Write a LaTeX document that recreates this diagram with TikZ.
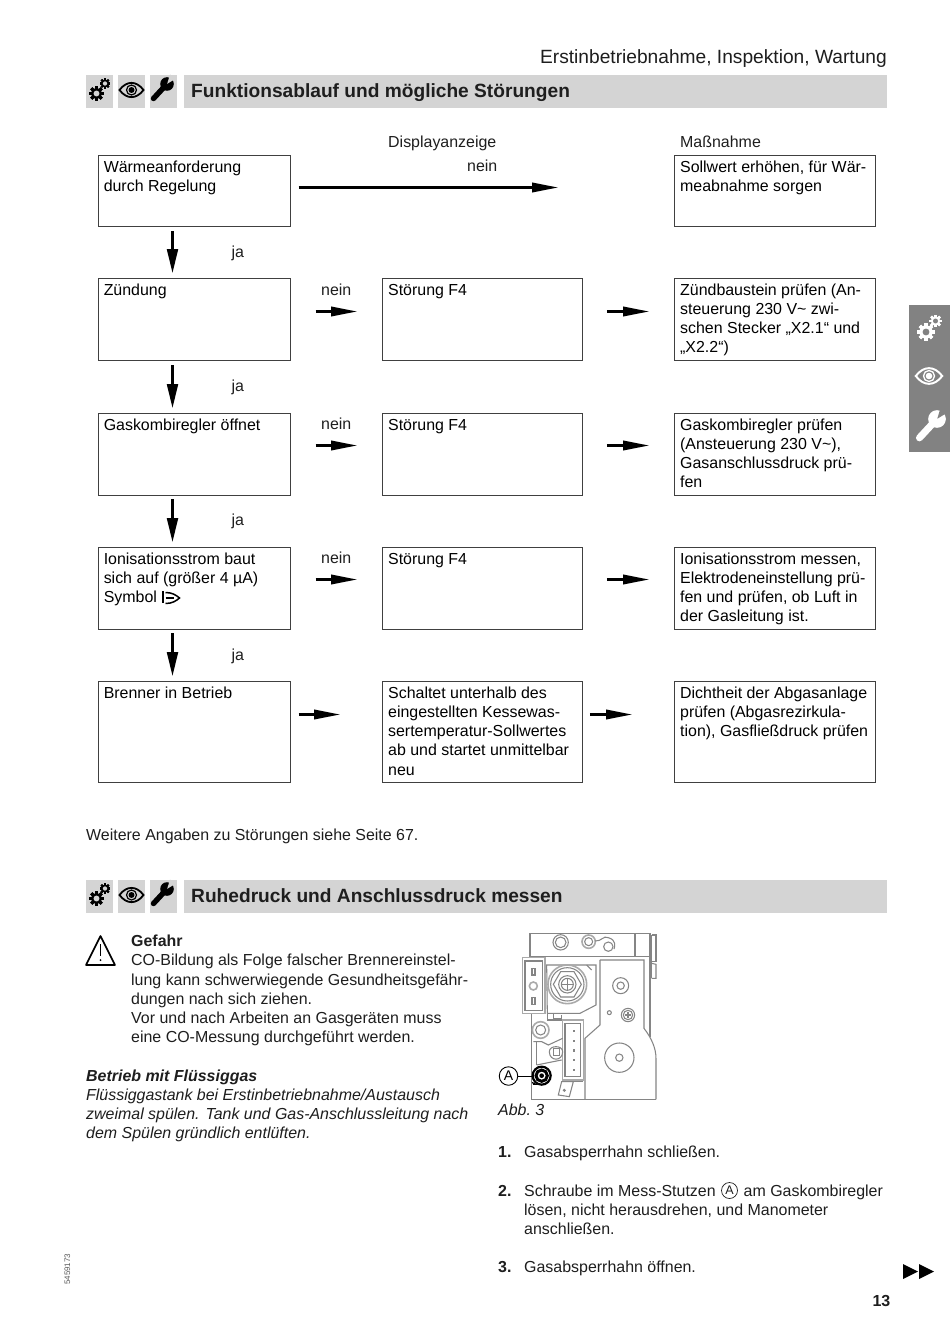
\documentclass[tikz,border=0pt]{standalone}
\usepackage{fontspec}
\setmainfont{Liberation Sans}
\usetikzlibrary{arrows.meta}
\definecolor{barg}{HTML}{D4D4D4}
\definecolor{tabg}{HTML}{828282}
\definecolor{devg}{HTML}{858585}
\definecolor{ink}{HTML}{1E1E1E}
\newcommand{\bodyf}{\fontsize{15.95}{19.25}\selectfont}
\newcommand{\boxt}[3]{\parbox[c][#2pt][t]{#1pt}{\raggedright\leftskip=5.7pt\bodyf\rule{0pt}{16.6pt}#3}}
\newcommand{\paratxt}[2]{\parbox[t]{#1pt}{\raggedright\bodyf\rule{0pt}{14pt}#2}}
% gear: x y r colour background
\newcommand{\geari}[5]{%
  \fill[#4] (#1,#2) circle[radius=#3*0.76];
  \foreach \ga in {0,45,...,315}{\fill[#4,rotate around={\ga:(#1,#2)}] (#1-#3*0.2,#2-#3) rectangle (#1+#3*0.2,#2+#3);}
  \fill[#5] (#1,#2) circle[radius=#3*0.4];}
% eye: x y scale colour background
\newcommand{\eyei}[5]{%
  \draw[#4,line width=#3*1.8pt,fill=#5] (#1-#3*12,#2) .. controls (#1-#3*5,#2-#3*9.5) and (#1+#3*5,#2-#3*9.5) .. (#1+#3*12,#2) .. controls (#1+#3*5,#2+#3*9.5) and (#1-#3*5,#2+#3*9.5) .. cycle;
  \draw[#4,line width=#3*1.2pt] (#1,#2) circle[radius=#3*5];
  \fill[#4] (#1,#2) circle[radius=#3*3];}
% wrench: head x y scale colour background
\newcommand{\wrenchi}[5]{%
  \draw[#4,line width=#3*5.4pt,line cap=round] (#1-#3*13.5,#2+#3*14.5) -- (#1-#3*1,#2+#3*1);
  \fill[#4] (#1,#2) circle[radius=#3*6.8];
  \fill[#5] (#1+#3*0.2,#2-#3*0.2) -- (#1+#3*9,#2-#3*5.5) -- (#1+#3*3,#2-#3*9.5) -- cycle;}
\tikzset{
  flow/.style={draw=ink!85,line width=0.9pt,anchor=north west,inner sep=0pt},
  lab/.style={anchor=base west,inner sep=0pt,font=\bodyf,text=ink},
  para/.style={anchor=north west,inner sep=0pt,text=ink},
  head/.style={anchor=base west,inner sep=0pt,font=\fontsize{19.15}{24}\selectfont\bfseries,text=ink},
  harrow/.style={line width=2.1pt,-{Stealth[length=26pt,width=9.5pt,inset=0pt]},black},
  varrow/.style={line width=2.1pt,-{Stealth[length=24pt,width=11pt,inset=0pt]},black},
  dev/.style={draw=devg,line width=1.05pt},
  devk/.style={draw=devg!70,line width=1.6pt},
  barbox/.style={fill=barg,draw=none,inner sep=0pt,anchor=north west},
}
\begin{document}
\begin{tikzpicture}[x=1pt,y=-1pt]
\useasboundingbox (0,0) rectangle (950,1343);
\fill[white] (0,0) rectangle (950,1343);

% page head
\node[anchor=base east,inner sep=0pt,font=\fontsize{19.17}{23}\selectfont,text=ink] (pagehead) at (887,64) {Erstinbetriebnahme, Inspektion, Wartung};

% heading bar 1
\node[barbox,minimum width=27pt,minimum height=33pt] (i1a) at (86,75) {};
\node[barbox,minimum width=27pt,minimum height=33pt] (i1b) at (118,75) {};
\node[barbox,minimum width=27pt,minimum height=33pt] (i1c) at (150,75) {};
\node[barbox,minimum width=703pt,minimum height=33pt] (bar1) at (184,75) {};
\node[head] (h1) at (191,97.5) {Funktionsablauf und mögliche Störungen};
\geari{96.5}{93.5}{7.4}{black}{barg}
\geari{105}{83.5}{5.3}{black}{barg}
\eyei{131.5}{90}{1}{black}{barg}
\wrenchi{167}{84}{1}{black}{barg}

% column labels
\node[lab] (lDisp) at (388,148) {Displayanzeige};
\node[lab] (lMass) at (680,148) {Maßnahme};

% flow boxes
\node[flow] (a1) at (97.6,155) {\boxt{192.5}{71}{Wärmeanforderung\\durch Regelung}};
\node[flow] (c1) at (674,155) {\boxt{200.6}{71}{Sollwert erhöhen, für Wär-\\meabnahme sorgen}};
\node[flow] (a2) at (97.6,278) {\boxt{192.5}{82}{Zündung}};
\node[flow] (b2) at (382,278) {\boxt{200}{82}{Störung F4}};
\node[flow] (c2) at (674,278) {\boxt{200.6}{82}{Zündbaustein prüfen (An-\\steuerung 230 V\textasciitilde\ zwi-\\schen Stecker „X2.1“ und\\„X2.2“)}};
\node[flow] (a3) at (97.6,413) {\boxt{192.5}{82}{Gaskombiregler öffnet}};
\node[flow] (b3) at (382,413) {\boxt{200}{82}{Störung F4}};
\node[flow] (c3) at (674,413) {\boxt{200.6}{82}{Gaskombiregler prüfen\\(Ansteuerung 230 V\textasciitilde),\\Gasanschlussdruck prü-\\fen}};
\node[flow] (a4) at (97.6,547) {\boxt{192.5}{82}{Ionisationsstrom baut\\sich auf (größer 4 µA)\\Symbol}};
\node[flow] (b4) at (382,547) {\boxt{200}{82}{Störung F4}};
\node[flow] (c4) at (674,547) {\boxt{200.6}{82}{Ionisationsstrom messen,\\Elektrodeneinstellung prü-\\fen und prüfen, ob Luft in\\der Gasleitung ist.}};
\node[flow] (a5) at (97.6,681) {\boxt{192.5}{101}{Brenner in Betrieb}};
\node[flow] (b5) at (382,681) {\boxt{200}{101}{Schaltet unterhalb des\\eingestellten Kessewas-\\sertemperatur-Sollwertes\\ab und startet unmittelbar\\neu}};
\node[flow] (c5) at (674,681) {\boxt{200.6}{101}{Dichtheit der Abgasanlage\\prüfen (Abgasrezirkula-\\tion), Gasfließdruck prüfen}};

% flame symbol
\draw[black,line width=1.6pt] (163,591) -- (163,603);
\draw[black,line width=1.5pt] (165.5,592.5) .. controls (172,592.5) and (176,595) .. (179.5,598) .. controls (176,601) and (172,603.5) .. (165.5,603.5);
\draw[black,line width=1.3pt] (165.5,598) -- (174,598);

% flow connectors
\coordinate (vx) at (172.5,0);
\draw[varrow,shorten <=4.5pt,shorten >=5pt] (a1.south -| vx) -- (a2.north -| vx);
\draw[varrow,shorten <=4.5pt,shorten >=5pt] (a2.south -| vx) -- (a3.north -| vx);
\draw[varrow,shorten <=3.5pt,shorten >=5pt] (a3.south -| vx) -- (a4.north -| vx);
\draw[varrow,shorten <=3.5pt,shorten >=5pt] (a4.south -| vx) -- (a5.north -| vx);
\coordinate (y1) at (0,187.5);
\coordinate (y2) at (0,311.5);
\coordinate (y3) at (0,445.5);
\coordinate (y4) at (0,579.5);
\coordinate (y5) at (0,714.5);
\draw[harrow,shorten <=7.5pt,shorten >=116pt] (a1.east |- y1) -- (c1.west |- y1);
\draw[harrow,shorten <=24.5pt,shorten >=25pt] (a2.east |- y2) -- (b2.west |- y2);
\draw[harrow,shorten <=24.5pt,shorten >=25pt] (a3.east |- y3) -- (b3.west |- y3);
\draw[harrow,shorten <=24.5pt,shorten >=25pt] (a4.east |- y4) -- (b4.west |- y4);
\draw[harrow,shorten <=7.5pt,shorten >=42pt] (a5.east |- y5) -- (b5.west |- y5);
\draw[harrow,shorten <=24pt,shorten >=25pt] (b2.east |- y2) -- (c2.west |- y2);
\draw[harrow,shorten <=24pt,shorten >=25pt] (b3.east |- y3) -- (c3.west |- y3);
\draw[harrow,shorten <=24pt,shorten >=25pt] (b4.east |- y4) -- (c4.west |- y4);
\draw[harrow,shorten <=7pt,shorten >=42pt] (b5.east |- y5) -- (c5.west |- y5);

% connector labels
\node[lab] (n1) at (467,171.5) {nein};
\node[lab] (n2) at (321,295.5) {nein};
\node[lab] (n3) at (321,429.5) {nein};
\node[lab] (n4) at (321,563.5) {nein};
\node[lab] (j1) at (231.5,257.5) {ja};
\node[lab] (j2) at (231.5,391.5) {ja};
\node[lab] (j3) at (231.5,525.5) {ja};
\node[lab] (j4) at (231.5,660) {ja};

\node[lab] (more) at (86,840) {Weitere Angaben zu Störungen siehe Seite 67.};

% heading bar 2
\node[barbox,minimum width=27pt,minimum height=33pt] (i2a) at (86,880) {};
\node[barbox,minimum width=27pt,minimum height=33pt] (i2b) at (118,880) {};
\node[barbox,minimum width=27pt,minimum height=33pt] (i2c) at (150,880) {};
\node[barbox,minimum width=703pt,minimum height=33pt] (bar2) at (184,880) {};
\node[head] (h2) at (191,902) {Ruhedruck und Anschlussdruck messen};
\geari{96.5}{898.5}{7.4}{black}{barg}
\geari{105}{888.5}{5.3}{black}{barg}
\eyei{131.5}{895}{1}{black}{barg}
\wrenchi{167}{889}{1}{black}{barg}

% warning
\draw[black,line width=1.6pt,line join=round] (100.5,936) -- (115,965) -- (86,965) -- cycle;
\draw[black,line width=1.4pt] (100.5,944) -- (100.5,956);
\fill[black] (100.5,960) circle[radius=1];
\node[para] (warn) at (131,932.3) {\paratxt{345}{\textbf{Gefahr}\\CO-Bildung als Folge falscher Brennereinstel-\\lung kann schwerwiegende Gesundheitsgefähr-\\dungen nach sich ziehen.\\Vor und nach Arbeiten an Gasgeräten muss\\eine CO-Messung durchgeführt werden.}};
\node[para] (lpg) at (86,1067) {\paratxt{390}{\textbf{\textit{Betrieb mit Flüssiggas}}\\\textit{Flüssiggastank bei Erstinbetriebnahme/Austausch}\\\textit{zweimal spülen. Tank und Gas-Anschlussleitung nach}\\\textit{dem Spülen gründlich entlüften.}}};

% device drawing (coordinates in 1/3 px of its crop)
\begin{scope}[shift={(490,925)},x=0.3333pt,y=-0.3333pt]
\draw[dev] (120,98) -- (120,25) -- (480,25) -- (480,335);
\draw[dev] (125,265) -- (125,523) -- (498,523);
\draw[dev] (485,30) -- (498,30) -- (498,110) -- (485,110);
\draw[dev] (485,30) -- (485,160);
\draw[dev] (485,115) -- (498,118) -- (498,160) -- (485,160);
\draw[dev] (435,25) -- (435,95);
\draw[dev] (120,95) -- (480,95);
\draw[dev] (212,52) circle[radius=23];
\draw[dev] (212,52) circle[radius=16];
\draw[devk] (296,50) circle[radius=20];
\draw[dev] (296,50) circle[radius=12];
\draw[dev] (315,48) .. controls (335,50) and (340,30) .. (355,38) .. controls (380,45) and (375,65) .. (372,72);
\draw[dev] (355,65) circle[radius=14];
% connector block
\draw[devk] (97,98) rectangle (165,265);
\draw[dev] (105,108) rectangle (157,257);
\draw[dev] (126,130) rectangle (135,150);
\draw[dev] (126,218) rectangle (135,238);
\draw[devk] (130,183) circle[radius=12];
% valve
\draw[dev] (170,120) -- (318,120) -- (318,240) -- (270,265) -- (172,265) -- cycle;
\draw[dev] (290,120) -- (305,135);
\draw[devk] (232,178) circle[radius=58];
\draw[dev] (232,178) circle[radius=50];
\draw[dev] (190,178) -- (212,140) -- (252,140) -- (274,178) -- (252,216) -- (212,216) -- cycle;
\draw[dev] (232,178) circle[radius=26];
\draw[dev] (232,178) circle[radius=18];
\draw[dev] (216,178) -- (248,178) (232,162) -- (232,194);
\draw[dev] (172,265) -- (172,285) -- (280,285);
\draw[dev] (190,265) -- (190,280) -- (215,280) -- (215,270);
% plate
\draw[dev] (330,105) -- (462,105) -- (462,310) .. controls (485,340) and (498,370) .. (498,400) -- (498,523);
\draw[dev] (330,105) -- (330,272) -- (330,300) -- (285,340) -- (285,523);
\draw[dev] (392,182) circle[radius=24];
\draw[dev] (392,182) circle[radius=11];
\draw[dev] (358,263) circle[radius=6];
\draw[dev] (414,270) circle[radius=20];
\draw[dev] (414,270) circle[radius=14];
\draw[dev] (406,270) -- (422,270) (414,262) -- (414,278);
\draw[dev] (388,398) circle[radius=44];
\draw[dev] (388,398) circle[radius=11];
% plug
\draw[devk] (218,285) rectangle (280,465);
\draw[dev] (225,295) rectangle (272,455);
\foreach \py in {315,345,373,402,432}{\fill[devg] (248,\py) rectangle (256,\py+7);}
\draw[dev] (218,470) -- (280,470);
\draw[dev] (205,510) -- (215,470) -- (250,470) -- (238,515) -- cycle;
\draw[dev] (223,496) circle[radius=3];
% lower left
\draw[devk] (152,315) circle[radius=25];
\draw[dev] (152,315) circle[radius=15];
\draw[dev] (130,350) -- (155,350) -- (175,360) -- (218,340);
\draw[dev] (140,350) -- (140,420);
\draw[dev] (178,380) .. controls (178,360) and (218,360) .. (218,380) .. controls (218,410) and (178,410) .. (178,380);
\draw[dev] (190,370) rectangle (208,392);
\draw[dev] (140,420) -- (215,405);
% measuring port
\draw[black,line width=2.2pt] (155,452) circle[radius=27];
\draw[black,line width=3pt] (155,452) circle[radius=17];
\fill[black] (155,452) circle[radius=7];
\fill[black] (125,470) -- (130,480) -- (145,480) -- cycle;
\end{scope}
\node[draw=black,circle,line width=0.9pt,inner sep=0pt,minimum size=18.5pt,font=\fontsize{14}{16}\selectfont] (markA) at (508.5,1076) {A};
\coordinate (port) at (533,1076);
\draw[black,line width=0.9pt] (markA) -- (port);
\node[lab,font=\bodyf\itshape] (abb) at (498,1115) {Abb.\ 3};

% steps
\node[lab,font=\bodyf\bfseries] (s1n) at (498,1157) {1.};
\node[lab] (s1) at (524,1157) {Gasabsperrhahn schließen.};
\node[lab,font=\bodyf\bfseries] (s2n) at (498,1196) {2.};
\node[lab] (s2a) at (524,1196) {Schraube im Mess-Stutzen};
\node[draw=ink,circle,line width=0.7pt,inner sep=0pt,minimum size=16pt,font=\fontsize{12.5}{14}\selectfont,text=ink] (s2m) at (729.5,1190.5) {A};
\node[lab] (s2b) at (743.5,1196) {am Gaskombiregler};
\node[para] (s2c) at (524,1201) {\paratxt{360}{lösen, nicht herausdrehen, und Manometer\\anschließen.}};
\node[lab,font=\bodyf\bfseries] (s3n) at (498,1272) {3.};
\node[lab] (s3) at (524,1272) {Gasabsperrhahn öffnen.};

% right-hand tab
\fill[tabg] (909,305) rectangle (950,452);
\geari{926}{332}{8.6}{white}{tabg}
\geari{935.5}{321}{6.2}{white}{tabg}
\eyei{929}{376}{1.1}{white}{tabg}
\wrenchi{937}{419}{1.3}{white}{tabg}

% next page arrows and page number
\fill[black] (903,1264) -- (918,1271.5) -- (903,1279) -- cycle;
\fill[black] (919,1264) -- (934,1271.5) -- (919,1279) -- cycle;
\node[anchor=base east,inner sep=0pt,font=\fontsize{16}{19}\selectfont\bfseries,text=ink] (pageno) at (890.5,1306) {13};
\node[anchor=base west,rotate=90,inner sep=0pt,font=\fontsize{8}{10}\selectfont,text=black!65] (docno) at (70,1285) {5459173};
\end{tikzpicture}
\end{document}
